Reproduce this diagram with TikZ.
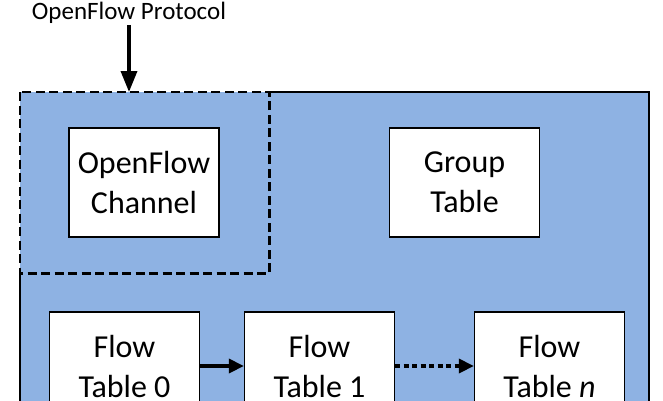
\documentclass[tikz,border=0pt]{standalone}
\usepackage{fontspec}
\setmainfont{Carlito}
\usetikzlibrary{arrows.meta}
\definecolor{swfill}{RGB}{142,178,227}
\begin{document}
\begin{tikzpicture}[x=1pt,y=-1pt,
  tablebox/.style={draw, line width=1.3pt, fill=white, minimum width=150pt, align=center,
    font=\fontsize{32}{40}\selectfont, inner sep=0pt},
  flowarrow/.style={line width=3.5pt, -{Triangle[length=15pt,width=14pt]}},
]
\useasboundingbox (0,0) rectangle (663,400);
\clip (0,0) rectangle (663,400);
\node[anchor=north west, fill=swfill, minimum width=629pt, minimum height=400pt, inner sep=0pt] (switch) at (20,92) {};
\node[anchor=north west, minimum width=249pt, minimum height=181pt, inner sep=0pt] (chanarea) at (20,92) {};
\draw[line width=2pt] (chanarea.north east) -- (switch.north east) -- (switch.south east)
  -- (switch.south west) -- (chanarea.south west);
\draw[line width=2.2pt, dash pattern=on 9pt off 4.5pt] (chanarea.north west) rectangle (chanarea.south east);
\node[tablebox, minimum height=109pt] (chan) at (144,182.5) {OpenFlow\\Channel};
\node[tablebox, minimum height=109pt] (group) at (464.5,182.5) {Group\\Table};
\node[tablebox, minimum height=108pt] (ft0) at (124.5,366) {Flow\\Table 0};
\node[tablebox, minimum height=108pt] (ft1) at (319.5,366) {Flow\\Table 1};
\node[tablebox, minimum height=108pt] (ftn) at (549.5,366) {Flow\\Table \textit{n}};
\draw[flowarrow] (ft0) -- (ft1);
\draw[flowarrow, dash pattern=on 5pt off 3.5pt] (ft1) -- (ftn);
\node[font=\fontsize{25}{29}\selectfont, inner sep=1pt] (proto) at (129,13) {OpenFlow Protocol};
\draw[line width=3.5pt, -{Triangle[length=21pt,width=16pt]}] (proto.south) -- (proto.south |- chanarea.north);
\end{tikzpicture}
\end{document}
